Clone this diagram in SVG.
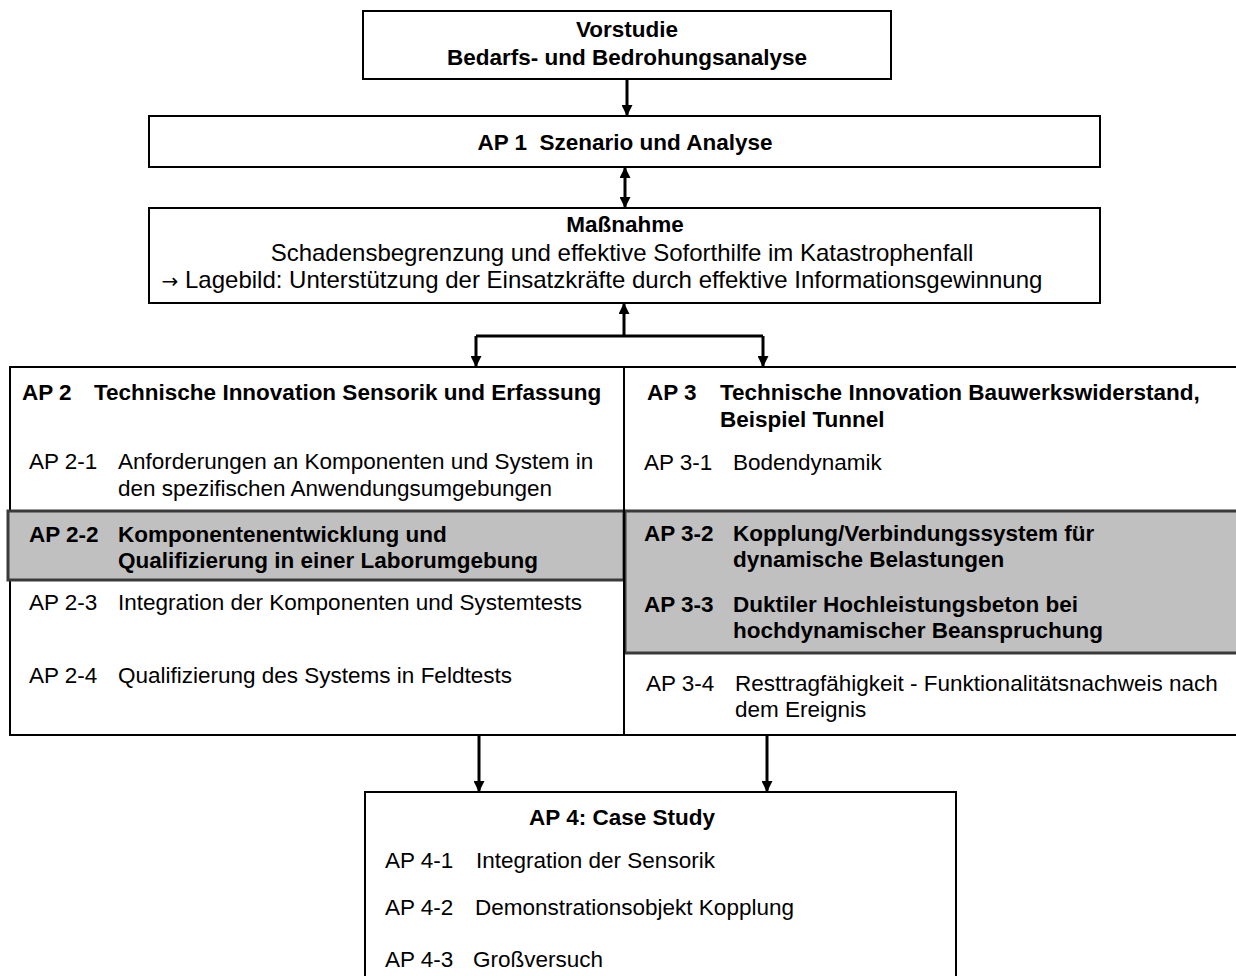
<svg xmlns="http://www.w3.org/2000/svg" width="1236" height="976" viewBox="0 0 1236 976">
<style>
text{font-family:"Liberation Sans",Arial,sans-serif;font-size:22.5px;fill:#000}
.b{font-weight:bold}
.c{text-anchor:middle}
.m{font-size:24px}
.box{fill:#fff;stroke:#000;stroke-width:2}
.hl{fill:#c0c0c0;stroke:#3a3a3a;stroke-width:3}
.con{fill:none;stroke:#000;stroke-width:3}
</style>
<defs>
<marker id="ah" viewBox="0 0 10 10" refX="9" refY="5" markerWidth="11" markerHeight="11" markerUnits="userSpaceOnUse" orient="auto-start-reverse"><path d="M0,0 L10,5 L0,10 z" fill="#000"/></marker>
</defs>
<rect width="1236" height="976" fill="#fff"/>

<g id="vorstudie">
<rect class="box" x="363" y="11" width="528" height="68"/>
<text class="b c" x="627" y="37">Vorstudie</text>
<text class="b c" x="627" y="65">Bedarfs- und Bedrohungsanalyse</text>
</g>

<g id="ap1">
<rect class="box" x="149" y="116" width="951" height="51"/>
<text class="b c" x="625" y="150" xml:space="preserve">AP 1  Szenario und Analyse</text>
</g>

<g id="massnahme">
<rect class="box" x="149" y="208" width="951" height="95"/>
<text class="b c" x="625" y="232">Maßnahme</text>
<text class="c m" x="622" y="261">Schadensbegrenzung und effektive Soforthilfe im Katastrophenfall</text>
<text class="c m" x="602" y="288"><tspan font-family="DejaVu Sans" font-size="20">→</tspan> Lagebild: Unterstützung der Einsatzkräfte durch effektive Informationsgewinnung</text>
</g>

<g id="ap2-ap3-frame">
<rect class="box" x="10" y="367" width="1232" height="368"/>
</g>

<g id="ap2">
<rect class="hl" x="8" y="511" width="616" height="69"/>
<text class="b" x="22" y="400">AP 2</text>
<text class="b" x="94" y="400">Technische Innovation Sensorik und Erfassung</text>
<text x="29" y="469">AP 2-1</text>
<text x="118" y="469">Anforderungen an Komponenten und System in</text>
<text x="118" y="496">den spezifischen Anwendungsumgebungen</text>
<text class="b" x="29" y="542">AP 2-2</text>
<text class="b" x="118" y="542">Komponentenentwicklung und</text>
<text class="b" x="118" y="568">Qualifizierung in einer Laborumgebung</text>
<text x="29" y="610">AP 2-3</text>
<text x="118" y="610">Integration der Komponenten und Systemtests</text>
<text x="29" y="683">AP 2-4</text>
<text x="118" y="683">Qualifizierung des Systems in Feldtests</text>
</g>

<g id="ap3">
<rect class="hl" x="625" y="511" width="615" height="142"/>
<line x1="624" y1="367" x2="624" y2="735" stroke="#000" stroke-width="2"/>
<text class="b" x="647" y="400">AP 3</text>
<text class="b" x="720" y="400">Technische Innovation Bauwerkswiderstand,</text>
<text class="b" x="720" y="427">Beispiel Tunnel</text>
<text x="644" y="470">AP 3-1</text>
<text x="733" y="470">Bodendynamik</text>
<text class="b" x="644" y="541">AP 3-2</text>
<text class="b" x="733" y="541">Kopplung/Verbindungssystem für</text>
<text class="b" x="733" y="567">dynamische Belastungen</text>
<text class="b" x="644" y="612">AP 3-3</text>
<text class="b" x="733" y="612">Duktiler Hochleistungsbeton bei</text>
<text class="b" x="733" y="638">hochdynamischer Beanspruchung</text>
<text x="646" y="691">AP 3-4</text>
<text x="735" y="691">Resttragfähigkeit - Funktionalitätsnachweis nach</text>
<text x="735" y="717">dem Ereignis</text>
</g>

<g id="ap4">
<rect class="box" x="365" y="792" width="591" height="200"/>
<text class="b c" x="622" y="825">AP 4: Case Study</text>
<text x="385" y="868">AP 4-1</text>
<text x="476" y="868">Integration der Sensorik</text>
<text x="385" y="915">AP 4-2</text>
<text x="475" y="915">Demonstrationsobjekt Kopplung</text>
<text x="385" y="967">AP 4-3</text>
<text x="473" y="967">Großversuch</text>
</g>

<g id="connectors">
<line class="con" x1="627" y1="79" x2="627" y2="115" marker-end="url(#ah)"/>
<line class="con" x1="625" y1="168" x2="625" y2="207" marker-start="url(#ah)" marker-end="url(#ah)"/>
<line class="con" x1="624" y1="336" x2="624" y2="304" marker-end="url(#ah)"/>
<path class="con" d="M476,336 H763"/>
<line class="con" x1="476" y1="336" x2="476" y2="366" marker-end="url(#ah)"/>
<line class="con" x1="763" y1="336" x2="763" y2="366" marker-end="url(#ah)"/>
<line class="con" x1="479" y1="736" x2="479" y2="791" marker-end="url(#ah)"/>
<line class="con" x1="767" y1="736" x2="767" y2="791" marker-end="url(#ah)"/>
</g>
</svg>
